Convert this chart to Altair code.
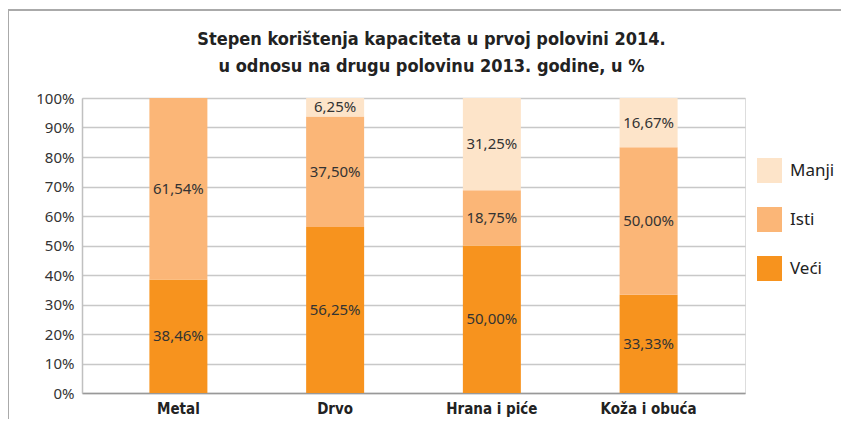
import altair as alt
import pandas as pd

categories = ["Metal", "Drvo", "Hrana i piće", "Koža i obuća"]
series = ["Veći", "Isti", "Manji"]
veci = [38.46, 56.25, 50.00, 33.33]
isti = [61.54, 37.50, 18.75, 50.00]
manji = [0.0, 6.25, 31.25, 16.67]
colors = ["#F7931E", "#FBB677", "#FDE4C9"]
y_ticks = [0, 10, 20, 30, 40, 50, 60, 70, 80, 90, 100]

rows = []
for i, c in enumerate(categories):
    start = 0.0
    for s, vals in zip(series, [veci, isti, manji]):
        v = vals[i]
        rows.append({
            "cat": c, "series": s, "order": series.index(s),
            "y0": start, "y1": start + v, "mid": start + v / 2,
            "label": (f"{v:.2f}".replace(".", ",") + "%") if v > 0 else "",
        })
        start += v
df = pd.DataFrame(rows)

FONT = "Noto Sans"
BOLD = "DejaVu Sans Condensed"

x_axis = alt.Axis(labelAngle=0, ticks=False, labelFont=BOLD, labelFontWeight="bold",
                  labelFontSize=15, labelColor="#222", labelPadding=8,
                  domainColor="#999", domainWidth=1.5)
y_axis = alt.Axis(values=y_ticks, labelExpr="datum.value + '%'", ticks=False,
                  labelOverlap=False,
                  labelFont=FONT, labelFontSize=15, labelColor="#333", labelPadding=8,
                  gridColor="#c8c8c8", gridWidth=1.5, domainColor="#c0c0c0",
                  domainWidth=1.5)
x_scale = alt.Scale(paddingInner=0.63, paddingOuter=0.43)
y_scale = alt.Scale(domain=[0, 100])

bars = alt.Chart(df).mark_bar().encode(
    x=alt.X("cat:N", sort=categories, title=None, scale=x_scale, axis=x_axis),
    y=alt.Y("y0:Q", scale=y_scale, title=None, axis=y_axis),
    y2="y1:Q",
    color=alt.Color("series:N", sort=["Manji", "Isti", "Veći"],
                    scale=alt.Scale(domain=series, range=colors),
                    legend=alt.Legend(title=None, orient="none", legendX=675, legendY=60,
                                      symbolType="square", symbolSize=625, symbolStrokeWidth=0,
                                      labelFont=FONT, labelFontSize=17, labelColor="#222",
                                      rowPadding=24, labelOffset=8,
                                      values=["Manji", "Isti", "Veći"])),
)

labels = alt.Chart(df).mark_text(font=FONT, fontSize=15, color="#333").encode(
    x=alt.X("cat:N", sort=categories, title=None, scale=x_scale, axis=x_axis),
    y=alt.Y("mid:Q", scale=y_scale, title=None, axis=y_axis),
    text="label:N",
)

frame_top = alt.Chart(df).mark_rule(color="#aaa", strokeWidth=2, clip=False).encode(
    x=alt.value(-76), x2=alt.value(770), y=alt.value(-88))
frame_left = alt.Chart(df).mark_rule(color="#aaa", strokeWidth=2, clip=False).encode(
    x=alt.value(-74), y=alt.value(-88), y2=alt.value(340))

chart = alt.layer(frame_top, frame_left, bars, labels).properties(
    width=663, height=295,
    autosize=alt.AutoSizeParams(type="none"),
    padding={"left": 74, "top": 90, "right": 96, "bottom": 26},
    title=alt.TitleParams(
        ["Stepen korištenja kapaciteta u prvoj polovini 2014.",
         "u odnosu na drugu polovinu 2013. godine, u %"],
        font=BOLD, fontSize=18, fontWeight="bold", color="#222",
        lineHeight=27, offset=0, dy=81, dx=18, baseline="alphabetic"),
).configure_view(stroke=None).configure(background="white")

chart.save("out.html", embed_options={"renderer": "svg", "actions": False})
